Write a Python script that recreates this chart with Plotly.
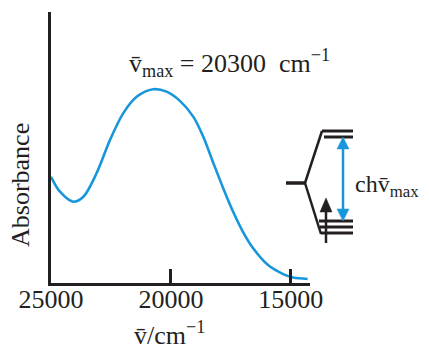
import plotly.graph_objects as go

# ---- data ----
wavenumber = [25000, 24625, 24070, 23650, 23100, 22540, 21990, 21430, 20740, 20180,
              19625, 19070, 18650, 18240, 17820, 17400, 16990, 16570, 15950, 15320, 14900, 14300]
absorbance = [0.392, 0.337, 0.300, 0.318, 0.405, 0.528, 0.626, 0.687, 0.715, 0.706,
              0.672, 0.614, 0.540, 0.445, 0.350, 0.262, 0.188, 0.128, 0.066, 0.033, 0.020, 0.015]
tick_values = [25000, 20000, 15000]
tick_labels = ["25000", "20000", "15000"]
nu_max = 20300

BLUE = "#1896dc"
INK = "#231f20"
FONT = "Liberation Serif"
# the page body has an 8px margin; size the figure so page pixels match the reference
OFF = 8
W, H = 429 - OFF, 345 - OFF
L, R, T, B = 51 - OFF, 119, 12 - OFF, 62
PW, PH = W - L - R, H - T - B


def px(x):  # page pixel -> paper fraction
    return (x - 51) / PW


def py(y):
    return (283 - y) / PH


fig = go.Figure()
fig.add_trace(go.Scatter(x=wavenumber, y=absorbance, mode="lines",
                         line=dict(color=BLUE, width=2.6, shape="spline", smoothing=0.9),
                         hoverinfo="skip", showlegend=False))

shapes = []


def seg(x0, y0, x1, y1, w=2.5, c=INK):
    shapes.append(dict(type="line", xref="paper", yref="paper",
                       x0=px(x0), y0=py(y0), x1=px(x1), y1=py(y1),
                       line=dict(color=c, width=w), layer="above"))


def tri(pts, c):
    d = "M " + " L ".join(f"{px(a)},{py(b)}" for a, b in pts) + " Z"
    shapes.append(dict(type="path", xref="paper", yref="paper", path=d,
                       fillcolor=c, line=dict(color=c, width=0.5), layer="above"))


# energy-level diagram
seg(286, 183, 305, 183, w=3.5)
seg(305, 183, 322, 131)
seg(305, 183, 321, 234)
seg(322, 131, 353, 131, w=3)
seg(324, 137, 353, 137, w=3)
seg(319, 221, 353, 221, w=3)
seg(320, 227, 353, 227, w=3)
seg(321, 233, 353, 233, w=3)
# black electron arrow
seg(326, 243, 326, 208, w=2.5)
tri([(326, 198), (320, 212), (332, 212)], INK)
# blue double arrow
seg(343, 145, 343, 212, w=2.5, c=BLUE)
tri([(343, 137), (337, 149), (349, 149)], BLUE)
tri([(343, 221), (337, 209), (349, 209)], BLUE)

annotations = [
    dict(text="Absorbance", xref="paper", yref="paper", x=px(20), y=py(185),
         textangle=-90, showarrow=False, font=dict(family=FONT, size=26, color=INK),
         xanchor="center", yanchor="middle"),
    dict(text="v\u0304/cm<sup>\u22121</sup>", xref="paper", yref="paper", x=px(169), y=py(352),
         showarrow=False, font=dict(family=FONT, size=26, color=INK),
         xanchor="center", yanchor="bottom"),
    dict(text=f"v\u0304<sub>max</sub> = {nu_max}  cm<sup>\u22121</sup>", xref="paper", yref="paper",
         x=px(229), y=py(63), showarrow=False, font=dict(family=FONT, size=26, color=INK),
         xanchor="center", yanchor="middle"),
    dict(text="chv\u0304<sub>max</sub>", xref="paper", yref="paper", x=px(353), y=py(186),
         showarrow=False, font=dict(family=FONT, size=24, color=INK),
         xanchor="left", yanchor="middle"),
]

fig.update_layout(
    width=W, height=H, margin=dict(l=L, r=R, t=T, b=B, autoexpand=False),
    paper_bgcolor="white", plot_bgcolor="white",
    shapes=shapes, annotations=annotations, showlegend=False,
    xaxis=dict(range=[25000, 14200], showgrid=False, zeroline=False,
               showline=True, linewidth=3, linecolor=INK,
               ticks="inside", ticklen=14, tickwidth=3, tickcolor=INK,
               tickvals=tick_values, ticktext=tick_labels, ticklabelstandoff=-9,
               tickfont=dict(family=FONT, size=26, color=INK)),
    yaxis=dict(range=[0, 1], showgrid=False, zeroline=False,
               showline=True, linewidth=3, linecolor=INK,
               showticklabels=False, ticks=""),
)

fig.write_html("out.html")
